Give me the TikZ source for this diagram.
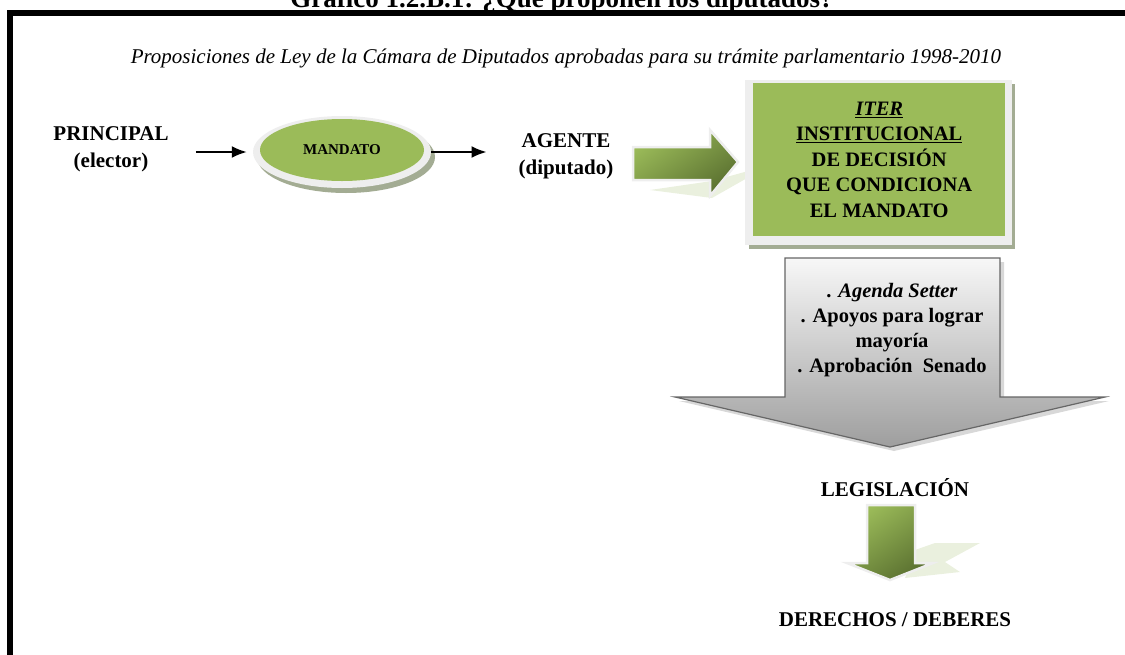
\documentclass[tikz,border=0pt]{standalone}
\usepackage{fontspec}
\setmainfont{Liberation Serif}
\usetikzlibrary{shapes.geometric,arrows.meta,positioning}
\definecolor{leafgreen}{HTML}{9BBB59}
\definecolor{darkleaf}{HTML}{5A7030}
\definecolor{rimgray}{HTML}{EEEEEE}
\definecolor{shadowgreen}{HTML}{A3AC93}
\definecolor{paleleaf}{HTML}{EAF0DE}
\tikzset{
  txt/.style={font=\bfseries\fontsize{21}{27}\selectfont, align=center, inner sep=2pt},
  pointer/.style={line width=2pt, -{Latex[length=15pt,width=12pt]}},
  greenblock/.style={top color=leafgreen, bottom color=darkleaf, shading angle=35, draw=rimgray, line width=2.5pt},
  grayblock/.style={top color=white!97!black, bottom color=black!38, draw=black!60, line width=1.2pt}
}
\begin{document}
\begin{tikzpicture}[x=1pt,y=-1pt]
  \useasboundingbox (0,0) rectangle (1125,654);
  \clip (0,0) rectangle (1125,654);
  % frame and headings
  \draw[line width=6pt] (10,670) -- (10,13) -- (1135,13);
  \node[font=\bfseries\fontsize{27}{30}\selectfont, anchor=base] (title) at (562,7) {Gráfico 1.2.B.1: ¿Qué proponen los diputados?};
  \node[font=\itshape\fontsize{21}{24}\selectfont] (subtitle) at (566,58) {Proposiciones de Ley de la Cámara de Diputados aprobadas para su trámite parlamentario 1998-2010};

  % principal -> mandato -> agente
  \node[txt] (principal) at (111,149) {PRINCIPAL\\(elector)};
  \node[ellipse, fill=shadowgreen, minimum width=178pt, minimum height=72pt] (rimshadow) at (346,157) {};
  \node[ellipse, fill=rimgray, minimum width=178pt, minimum height=72pt] (rim) at (342,152) {};
  \node[ellipse, fill=leafgreen, minimum width=164pt, minimum height=62pt, font=\bfseries\fontsize{15}{18}\selectfont] (mandato) at (342,150) {MANDATO};
  \node[txt] (agente) at (566,156) {AGENTE\\(diputado)};
  \draw[pointer] ([xshift=25pt]principal.east |- rim.west) -- ([xshift=-6pt]rim.west);
  \draw[pointer, shorten >=30pt] (rim.east) -- (agente.west |- rim.east);

  % big arrow into the iter box
  \fill[paleleaf] (650,190) -- (712,181) -- (770,165) -- (712,198) -- cycle;
  \path[greenblock] (633,147) -- (710,147) -- (710,130) -- (738,162) -- (710,196) -- (710,180) -- (633,180) -- cycle;
  \fill[shadowgreen] (749,84) rectangle (1015,249);
  \fill[rimgray] (745,80) rectangle (1012,245);
  \node[fill=leafgreen, minimum width=252pt, minimum height=153pt, anchor=north west] (iterbox) at (753,83) {};
  \node[txt, font=\bfseries\fontsize{20.5}{25.5}\selectfont] (iter) at (iterbox.center) {\underline{\textit{ITER}}\\\underline{INSTITUCIONAL}\\DE DECISIÓN\\QUE CONDICIONA\\EL MANDATO};

  % gray down arrow
  \fill[black!30, opacity=.5] (789,262) -- (1004,262) -- (1004,401) -- (1109,401) -- (894,451) -- (679,401) -- (789,401) -- cycle;
  \path[grayblock] (785,258) -- (1000,258) -- (1000,397) -- (1105,397) -- (890,447) -- (675,397) -- (785,397) -- cycle;
  \node[txt, font=\bfseries\fontsize{20.5}{25}\selectfont] (steps) at (892,330) {. \textit{Agenda Setter}\\. Apoyos para lograr\\mayoría\\. Aprobación~ Senado};

  % legislation -> rights
  \node[txt] (legis) at (895,488) {LEGISLACIÓN};
  \fill[paleleaf] (915,550) -- (935,543) -- (980,543) -- (945,562) -- (960,572) -- (905,578) -- cycle;
  \path[greenblock] (867,505) -- (915,505) -- (915,563) -- (933,563) -- (890,580) -- (847,563) -- (867,563) -- cycle;
  \node[txt, below=132pt of legis.center, anchor=center] (rights) {DERECHOS / DEBERES};
\end{tikzpicture}
\end{document}
